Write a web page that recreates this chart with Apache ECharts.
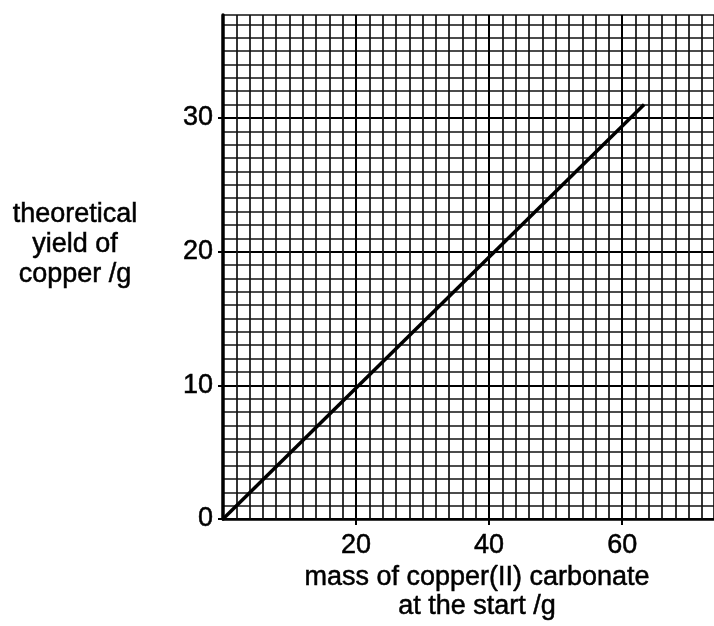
<!DOCTYPE html>
<html>
<head>
<meta charset="utf-8">
<script src="https://cdn.jsdelivr.net/npm/echarts@6/dist/echarts.min.js"></script>
<style>
  html, body { margin: 0; padding: 0; background: #fff; }
  #chart { width: 714px; height: 626px; }
</style>
</head>
<body>
<div id="chart"></div>
<script>
// values
var massStart = [0, 63.3]
var yieldCopper = [0, 31]
var xTickLabels = [20, 40, 60]
var yTickLabels = [0, 10, 20, 30]

var lineData = massStart.map(function(v, i) {
  return [v, yieldCopper[i]]
})

var font = '"Liberation Sans", Arial, sans-serif'

var myChart = echarts.init(document.getElementById('chart'))
var option = {
  animation: false,
  backgroundColor: '#fff',
  grid: {
    left: 223,
    top: 15,
    width: 491,
    height: 504
  },
  xAxis: [
    {
      // fine graph paper lines
      type: 'value',
      min: 0,
      max: 73.8,
      interval: 2,
      axisLine: { show: false },
      axisTick: { show: false },
      axisLabel: { show: false },
      splitLine: { show: true, lineStyle: { color: '#111', width: 1.7 } }
    },
    {
      // heavier lines, axis, ticks and labels
      type: 'value',
      min: 0,
      max: 73.8,
      interval: 10,
      position: 'bottom',
      axisLine: { show: true, onZero: false, lineStyle: { color: '#000', width: 2.5 } },
      axisTick: { show: true, customValues: xTickLabels, length: 6, lineStyle: { color: '#000', width: 2 } },
      axisLabel: {
        customValues: xTickLabels,
        margin: 13,
        color: '#000',
        fontSize: 27,
        fontFamily: font,
        textBorderColor: '#000',
        textBorderWidth: 0.5
      },
      splitLine: { show: true, lineStyle: { color: '#000', width: 2 } }
    }
  ],
  yAxis: [
    {
      type: 'value',
      min: 0,
      max: 37.7,
      interval: 1,
      axisLine: { show: false },
      axisTick: { show: false },
      axisLabel: { show: false },
      splitLine: { show: true, lineStyle: { color: '#111', width: 1.7 } }
    },
    {
      type: 'value',
      min: 0,
      max: 37.7,
      interval: 5,
      position: 'left',
      axisLine: { show: true, onZero: false, lineStyle: { color: '#000', width: 3.5 } },
      axisTick: { show: true, customValues: yTickLabels, length: 5, lineStyle: { color: '#000', width: 2 } },
      axisLabel: {
        customValues: yTickLabels,
        margin: 10,
        color: '#000',
        fontSize: 27,
        fontFamily: font,
        textBorderColor: '#000',
        textBorderWidth: 0.5
      },
      splitLine: { show: true, lineStyle: { color: '#000', width: 2 } }
    }
  ],
  graphic: [
    {
      type: 'text',
      x: 75,
      y: 245,
      style: {
        text: 'theoretical\nyield of\ncopper /g',
        fill: '#000',
        stroke: '#000',
        lineWidth: 0.5,
        font: '27px ' + font,
        lineHeight: 30,
        align: 'center',
        verticalAlign: 'middle'
      }
    },
    {
      type: 'text',
      x: 477,
      y: 592,
      style: {
        text: 'mass of copper(II) carbonate\nat the start /g',
        fill: '#000',
        stroke: '#000',
        lineWidth: 0.5,
        font: '27px ' + font,
        lineHeight: 29,
        align: 'center',
        verticalAlign: 'middle'
      }
    }
  ],
  series: [
    {
      name: 'theoretical yield',
      type: 'line',
      xAxisIndex: 0,
      yAxisIndex: 0,
      data: lineData,
      symbol: 'none',
      lineStyle: { color: '#000', width: 3.5 },
      z: 5
    }
  ]
}
myChart.setOption(option)
</script>
</body>
</html>
